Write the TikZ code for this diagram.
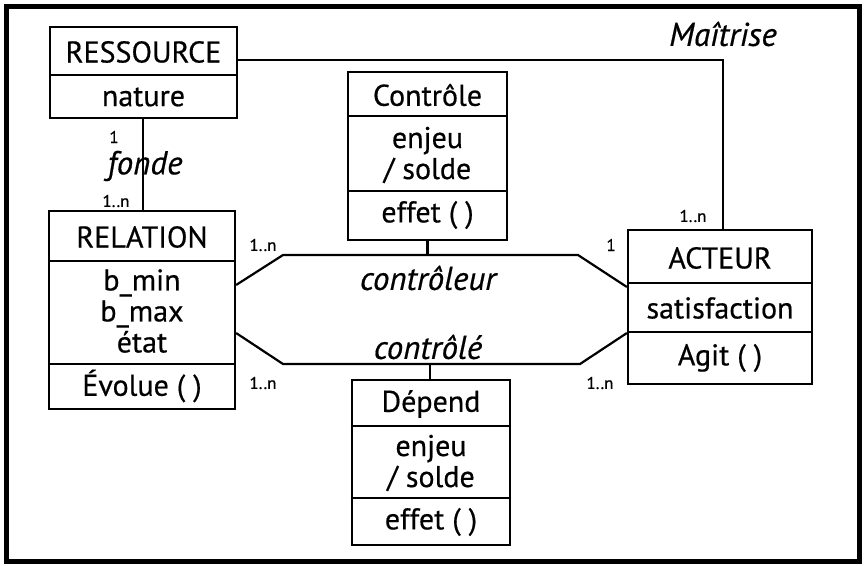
\documentclass[tikz,border=0pt]{standalone}
\usepackage{fontspec}
\setmainfont{PT Sans}[FakeBold=0.5]
\begin{document}
\begin{tikzpicture}[x=1pt,y=-1pt,
  box/.style={draw,line width=2.2pt,rectangle,inner sep=0pt},
  txt/.style={font=\fontsize{30}{31}\selectfont,inner sep=0pt,align=center},
  role/.style={font=\fontsize{33}{34}\selectfont\itshape,inner sep=0pt},
  mult/.style={font=\fontsize{17}{19}\selectfont,inner sep=0pt},
  link/.style={line width=2.2pt},
  divider/.style={line width=1.2pt}]
\useasboundingbox (0,0) rectangle (864,565);
\draw[line width=5pt] (6,6) rectangle (859,561);
% boxes
\node[box,minimum width=187pt,minimum height=91pt] (res) at (143.5,72.5) {};
\node[box,minimum width=186pt,minimum height=198pt] (rel) at (142,310) {};
\node[box,minimum width=159pt,minimum height=168pt] (ctl) at (427.5,156) {};
\node[box,minimum width=158pt,minimum height=165pt] (dep) at (431,462.5) {};
\node[box,minimum width=184pt,minimum height=154pt] (act) at (720,307) {};
% dividers
\draw[divider] (res.west |- 0,75) -- (res.east |- 0,75);
\draw[divider] (rel.west |- 0,261) -- (rel.east |- 0,261);
\draw[divider] (rel.west |- 0,364) -- (rel.east |- 0,364);
\draw[divider] (ctl.west |- 0,116) -- (ctl.east |- 0,116);
\draw[divider] (ctl.west |- 0,191) -- (ctl.east |- 0,191);
\draw[divider] (dep.west |- 0,426) -- (dep.east |- 0,426);
\draw[divider] (dep.west |- 0,498) -- (dep.east |- 0,498);
\draw[divider] (act.west |- 0,283) -- (act.east |- 0,283);
\draw[divider] (act.west |- 0,332) -- (act.east |- 0,332);
% texts
\node[txt] (resname) at (143.5,52) {RESSOURCE};
\node[txt] (resattr) at (143.5,97) {nature};
\node[txt] (relname) at (142,237) {RELATION};
\node[txt] (relattr) at (142,311) {b\_min\\b\_max\\état};
\node[txt] (relop) at (142,386) {Évolue ( )};
\node[txt] (ctlname) at (427.5,95) {Contrôle};
\node[txt] (ctlattr) at (427.5,155) {enjeu\\/ solde};
\node[txt] (ctlop) at (427.5,215) {effet ( )};
\node[txt] (depname) at (431,404) {Dépend};
\node[txt] (depattr) at (431,463) {enjeu\\/ solde};
\node[txt] (depop) at (431,522) {effet ( )};
\node[txt] (actname) at (720,258) {ACTEUR};
\node[txt] (actattr) at (720,308) {satisfaction};
\node[txt] (actop) at (720,358) {Agit ( )};
% connectors
\coordinate (m1) at (723,60);
\draw[link] (res.east |- m1) -- (m1) -- (m1 |- act.north);
\draw[link] (res.south -| 143,0) -- (143,0 |- rel.north);
\coordinate (ul) at (283,255);
\coordinate (ur) at (578,255);
\coordinate (ll) at (283,364);
\coordinate (lr) at (580,364);
\draw[link] (rel.east |- 0,285) -- (ul) -- (ur) -- (act.west |- 0,287);
\draw[link] (rel.east |- 0,333) -- (ll) -- (lr) -- (act.west |- 0,333);
\draw[link] (ctl.south) -- (ctl.south |- ul);
\draw[link] (dep.north -| 430,0) -- (430,0 |- ll);
% labels
\node[role] (lfonde) at (145,166) {fonde};
\node[role] (lmait) at (723,34) {Maîtrise};
\node[role] (lctr) at (428,278) {contrôleur};
\node[role] (lctd) at (428,347) {contrôlé};
\node[mult] (m1a) at (114,137) {1};
\node[mult] (m1b) at (116,201) {1..n};
\node[mult] (m2a) at (693,216) {1..n};
\node[mult] (m3a) at (263,245) {1..n};
\node[mult] (m3b) at (611,245) {1};
\node[mult] (m4a) at (263,383) {1..n};
\node[mult] (m4b) at (600,383) {1..n};
\end{tikzpicture}
\end{document}
